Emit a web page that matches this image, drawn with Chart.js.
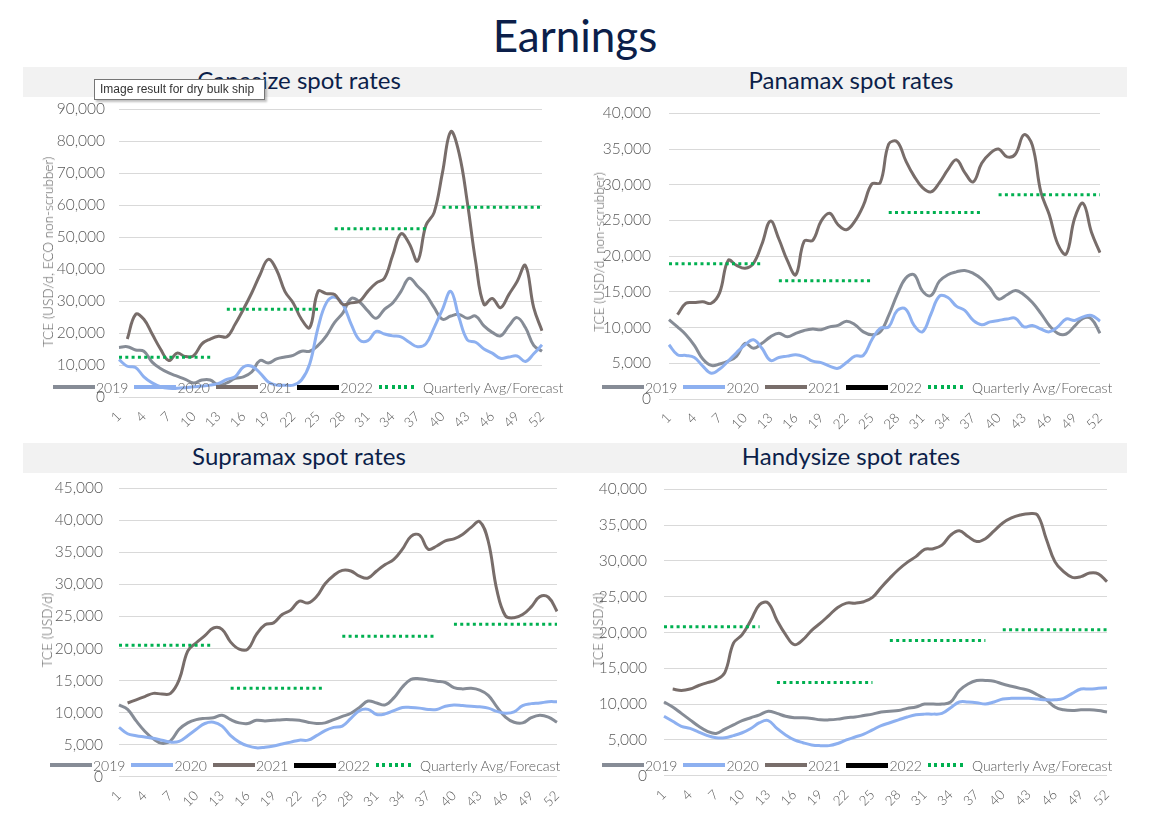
<!DOCTYPE html>
<html lang="en">
<head>
<meta charset="utf-8">
<title>Earnings</title>
<script src="https://cdn.jsdelivr.net/npm/chart.js@4.4.1/dist/chart.umd.min.js"></script>
<style>
  html, body { margin: 0; padding: 0; background: #fff; }
  body {
    width: 1150px; height: 819px; position: relative; overflow: hidden;
    font-family: Lato, 'Noto Sans', sans-serif;
  }
  .page-title {
    position: absolute; left: 0; top: 8px; width: 1150px;
    height: 54px; line-height: 54px; text-align: center;
    font-size: 44px; color: #0c1f4a;
  }
  .panel-bar {
    position: absolute; width: 552px; height: 30px; background: #f2f2f2;
    line-height: 26px; text-align: center; font-size: 24px; color: #0c1f4a;
  }
  canvas { position: absolute; }
  .y-title {
    position: absolute; white-space: nowrap; font-size: 13.5px; font-weight: 300; color: #595959;
    transform: translate(-50%, -50%) rotate(-90deg);
  }
  .legend {
    position: absolute; display: flex; align-items: center; height: 20px; margin-top: -10px;
    font-size: 14px; font-weight: 300; color: #595959; white-space: nowrap;
  }
  .legend .item { display: flex; align-items: center; margin-right: 6px; }
  .legend .swatch { width: 42px; height: 3.5px; margin-right: 1px; }
  .legend .swatch.thick { height: 5px; }
  .legend .swatch.dots {
    width: 38px; margin-right: 6px;
    background: repeating-linear-gradient(90deg, #00b050 0 3px, transparent 3px 6.3px) !important;
  }
  .tip {
    position: absolute; left: 94px; top: 79px; width: 164px; height: 19px;
    border: 1px solid #767676; background: #fff; box-shadow: 2px 2px 2px rgba(0,0,0,0.25);
    font: 12px 'Liberation Sans', Arial, sans-serif; color: #333;
    line-height: 19px; padding-left: 5px; box-sizing: content-box; white-space: nowrap;
  }
</style>
</head>
<body>
<div class="page-title">Earnings</div>

<script>
'use strict';

/* ---- 1. Data (weekly TCE, USD/day) ---- */
const weeks = [1, 2, 3, 4, 5, 6, 7, 8, 9, 10, 11, 12, 13, 14, 15, 16, 17, 18, 19, 20, 21, 22, 23, 24, 25, 26,
               27, 28, 29, 30, 31, 32, 33, 34, 35, 36, 37, 38, 39, 40, 41, 42, 43, 44, 45, 46, 47, 48, 49, 50, 51, 52];
const tickWeeks = [1, 4, 7, 10, 13, 16, 19, 22, 25, 28, 31, 34, 37, 40, 43, 46, 49, 52];

const quarterFirstWeek = [1, 14, 27, 40];
const quarterLastWeek  = [12, 25, 38, 52];

const capesize2019 = [15600, 15800, 14800, 14400, 11000, 9000, 7600, 6600, 5600, 4500, 5400, 5400, 3800, 4500, 5900, 6400, 7900, 11500, 10700, 12000, 12600, 13100, 14400, 14400, 16200, 19200,
                      23400, 26400, 30900, 29800, 27000, 24700, 27500, 29500, 33100, 37200, 34700, 32100, 28000, 24400, 25400, 25900, 24700, 25400, 22300, 20300, 19200, 22300, 24900, 21800, 16200, 14400];
const capesize2020 = [11800, 9700, 9300, 6400, 4500, 3300, 2800, 2800, 3000, 3300, 3500, 3800, 4300, 5600, 6400, 9500, 9700, 7600, 4800, 3800, 3800, 3800, 5400, 10500, 21800, 29500,
                      31300, 29000, 22800, 17900, 17700, 20600, 19800, 19200, 18900, 17200, 15800, 16700, 21800, 27500, 33100, 24900, 17900, 17200, 15100, 13800, 12200, 12600, 12900, 11200, 13600, 16400];
const capesize2021 = [null, 18200, 25900, 24400, 19750, 15100, 11500, 13800, 12750, 13000, 16700, 18200, 19100, 18900, 22800, 27500, 32600, 38300, 43100, 39800, 33100, 29500, 24400, 21800, 33100, 32400,
                      32100, 29000, 29500, 30000, 33100, 35700, 37200, 44400, 51100, 48000, 42600, 53700, 57800, 70200, 83000, 76300, 60900, 42400, 29000, 30900, 28000, 32100, 36200, 41200, 28000, 20800];
const capesizeQuarterly = [12500, 27500, 52700, 59400];

const panamax2019 = [11100, 10100, 9000, 7500, 5600, 4700, 4900, 5300, 6000, 7800, 7100, 7800, 8700, 9200, 8700, 9200, 9600, 9800, 9700, 10100, 10300, 10900, 10400, 9400, 9000, 9400,
                     11700, 14600, 16900, 17400, 15100, 14500, 16500, 17400, 17800, 18000, 17600, 16800, 15500, 14000, 14600, 15200, 14600, 13500, 12000, 10300, 9200, 9100, 10200, 11300, 11200, 9200];
const panamax2020 = [7600, 6200, 6100, 5800, 4600, 3600, 4200, 5300, 6500, 7600, 8300, 7100, 5400, 5800, 6000, 6200, 5900, 5300, 5100, 4600, 4300, 5100, 6000, 6100, 8300, 9900,
                     10100, 12400, 12600, 10300, 9400, 11900, 14400, 14200, 13000, 12400, 11000, 10400, 10800, 11000, 11200, 11300, 10100, 10300, 9800, 9400, 10100, 11200, 11000, 11500, 11700, 10900];
const panamax2021 = [null, 11800, 13400, 13500, 13600, 13400, 14900, 19400, 18700, 18300, 19000, 21700, 24900, 22400, 19400, 17400, 22100, 22200, 24900, 26000, 24400, 23700, 24900, 27100, 30100, 30300,
                     35700, 36000, 33400, 31200, 29600, 29000, 30300, 32100, 33500, 31700, 30400, 33000, 34400, 35000, 33900, 34300, 37000, 35500, 29000, 25800, 21700, 20300, 25300, 27400, 23300, 20500];
const panamaxQuarterly = [18950, 16550, 26100, 28600];

const supramax2019 = [11200, 10500, 8700, 7100, 5900, 5200, 5600, 7400, 8400, 8900, 9100, 9200, 9600, 8900, 8400, 8300, 8800, 8700, 8800, 8900, 8900, 8800, 8500, 8300, 8400, 8900,
                      9400, 9900, 10800, 11800, 11500, 11200, 12300, 14000, 15200, 15300, 15100, 14900, 14700, 13900, 13700, 13800, 13500, 12700, 10900, 9300, 8500, 8400, 9200, 9600, 9300, 8500];
const supramax2020 = [7700, 6700, 6400, 6200, 6000, 5700, 5400, 5500, 6400, 7400, 8300, 8500, 7900, 6400, 5400, 4800, 4500, 4600, 4800, 5100, 5400, 5700, 5700, 6400, 7200, 7700,
                      7900, 9100, 10300, 10500, 9700, 9800, 10300, 10800, 10800, 10700, 10500, 10500, 11000, 11200, 11100, 11000, 10900, 10700, 10200, 9900, 10100, 11100, 11400, 11500, 11700, 11700];
const supramax2021 = [null, 11500, 12000, 12500, 13000, 12900, 13000, 15100, 19600, 20900, 22000, 23200, 23000, 21000, 19900, 19900, 22200, 23700, 24000, 25300, 26000, 27400, 27100, 28100, 30100, 31400,
                      32200, 32100, 31300, 31000, 32100, 33100, 33900, 35500, 37500, 37700, 35500, 36000, 36800, 37100, 37800, 38900, 39800, 36700, 29100, 25100, 24800, 25300, 26500, 28100, 28000, 25800];
const supramaxQuarterly = [20500, 13800, 21900, 23800];

const handysize2019 = [10300, 9600, 8700, 7800, 6900, 6200, 5900, 6500, 7100, 7700, 8100, 8500, 9000, 8700, 8300, 8100, 8100, 8000, 7800, 7800, 7900, 8100, 8200, 8400, 8600, 8900,
                       9000, 9100, 9400, 9600, 10000, 10000, 10000, 10300, 11900, 12800, 13300, 13300, 13200, 12800, 12500, 12200, 11900, 11300, 10600, 9600, 9200, 9100, 9200, 9200, 9100, 8900];
const handysize2020 = [8300, 7600, 6900, 6600, 6100, 5600, 5300, 5300, 5600, 6000, 6600, 7400, 7700, 6600, 5700, 5000, 4600, 4300, 4200, 4200, 4500, 5000, 5400, 5800, 6400, 7000,
                       7400, 7800, 8200, 8500, 8600, 8600, 8700, 9500, 10300, 10300, 10200, 10000, 10300, 10700, 10800, 10800, 10800, 10700, 10600, 10600, 10800, 11500, 12100, 12100, 12200, 12300];
const handysize2021 = [null, 12100, 11900, 12100, 12600, 13000, 13400, 14400, 18500, 19700, 21700, 23900, 24100, 21700, 19700, 18300, 19000, 20300, 21300, 22400, 23500, 24100, 24100, 24300, 24900, 26300,
                       27600, 28800, 29800, 30600, 31600, 31700, 32200, 33600, 34200, 33400, 32700, 33100, 34200, 35300, 36000, 36400, 36600, 36400, 33100, 29900, 28500, 27700, 27800, 28300, 28200, 27100];
const handysizeQuarterly = [20800, 13000, 18900, 20400];

/* ---- 2. Theme ---- */
const COLORS = {
  y2019: '#868c96',
  y2020: '#8db0f0',
  y2021: '#786d6a',
  y2022: '#000000',
  quarterly: '#00b050',
  grid: '#d9d9d9',
  text: '#595959',
};

Chart.defaults.font.family = "Lato, 'Noto Sans', sans-serif";
Chart.defaults.font.weight = 300;
Chart.defaults.color = COLORS.text;

/* ---- 3. Panel layout (canvas box + target plot area, page px) ---- */
const PANELS = [
  { title: 'Capesize spot rates',  yTitle: 'TCE (USD/d, ECO non-scrubber)', bar: { l: 23, t: 67 },
    box: { l: 0, t: 86, w: 575, h: 350 }, area: { l: 119, r: 542, t: 105.7, b: 397.3 }, yPad: 14,
    yTitlePos: { x: 48, y: 252 }, legendPos: { x: 53, y: 387 },
    yMax: 90000, yStep: 10000, s2019: capesize2019, s2020: capesize2020, s2021: capesize2021, q: capesizeQuarterly },
  { title: 'Panamax spot rates',   yTitle: 'TCE (USD/d, non-scrubber)', bar: { l: 575, t: 67 },
    box: { l: 575, t: 86, w: 575, h: 350 }, area: { l: 669, r: 1100, t: 105.7, b: 399 }, yPad: 18,
    yTitlePos: { x: 599, y: 252 }, legendPos: { x: 602, y: 387 },
    yMax: 40000, yStep: 5000, s2019: panamax2019, s2020: panamax2020, s2021: panamax2021, q: panamaxQuarterly },
  { title: 'Supramax spot rates',  yTitle: 'TCE (USD/d)', bar: { l: 23, t: 443 },
    box: { l: 0, t: 463, w: 575, h: 350 }, area: { l: 119, r: 557, t: 482.7, b: 776.7 }, yPad: 16,
    yTitlePos: { x: 47, y: 630 }, legendPos: { x: 50, y: 765 },
    yMax: 45000, yStep: 5000, s2019: supramax2019, s2020: supramax2020, s2021: supramax2021, q: supramaxQuarterly },
  { title: 'Handysize spot rates', yTitle: 'TCE (USD/d)', bar: { l: 575, t: 443 },
    box: { l: 575, t: 463, w: 575, h: 350 }, area: { l: 664, r: 1107, t: 482.7, b: 775.7 }, yPad: 17,
    yTitlePos: { x: 598, y: 630 }, legendPos: { x: 602, y: 765 },
    yMax: 40000, yStep: 5000, s2019: handysize2019, s2020: handysize2020, s2021: handysize2021, q: handysizeQuarterly },
];

const LEGEND_ITEMS = [
  { label: '2019', color: COLORS.y2019 },
  { label: '2020', color: COLORS.y2020 },
  { label: '2021', color: COLORS.y2021 },
  { label: '2022', color: COLORS.y2022, cls: 'thick' },
  { label: 'Quarterly Avg/Forecast', color: COLORS.quarterly, cls: 'dots' },
];

/* ---- 4. Helpers ---- */
// Spread the four quarterly levels over their weeks (gaps between quarters stay empty)
function quarterlySeries(levels) {
  return weeks.map(w => {
    const q = quarterFirstWeek.findIndex((first, i) => w >= first && w <= quarterLastWeek[i]);
    return q >= 0 ? levels[q] : null;
  });
}

function yearLine(label, data, color, order) {
  return {
    label, data, order,
    borderColor: color,
    backgroundColor: color,
    borderWidth: 3,
    tension: 0.4,
    pointRadius: 0,
    fill: false,
  };
}

function addEl(cls, text, style) {
  const el = document.createElement('div');
  el.className = cls;
  if (text) el.textContent = text;
  Object.assign(el.style, style || {});
  document.body.appendChild(el);
  return el;
}

function buildLegend(pos) {
  const wrap = addEl('legend', '', { left: pos.x + 'px', top: pos.y + 'px' });
  LEGEND_ITEMS.forEach(it => {
    const item = document.createElement('div');
    item.className = 'item';
    const sw = document.createElement('span');
    sw.className = 'swatch' + (it.cls ? ' ' + it.cls : '');
    sw.style.background = it.color;
    const tx = document.createElement('span');
    tx.textContent = it.label;
    item.appendChild(sw);
    item.appendChild(tx);
    wrap.appendChild(item);
  });
}

function buildPanel(p) {
  const { box, area } = p;

  const canvas = document.createElement('canvas');
  canvas.width = box.w;
  canvas.height = box.h;
  Object.assign(canvas.style, {
    left: box.l + 'px', top: box.t + 'px', width: box.w + 'px', height: box.h + 'px'
  });
  document.body.appendChild(canvas);

  return new Chart(canvas, {
    type: 'line',
    data: {
      labels: weeks,
      datasets: [
        yearLine('2019', p.s2019, COLORS.y2019, 3),
        yearLine('2020', p.s2020, COLORS.y2020, 2),
        yearLine('2021', p.s2021, COLORS.y2021, 1),
        {
          label: 'Quarterly Avg/Forecast',
          data: quarterlySeries(p.q),
          order: 0,
          borderColor: COLORS.quarterly,
          borderWidth: 3,
          borderDash: [3, 3.3],
          tension: 0,
          pointRadius: 0,
          fill: false,
        },
      ]
    },
    options: {
      responsive: false,
      animation: false,
      events: [],
      layout: {
        padding: { top: area.t - box.t, right: box.l + box.w - area.r, bottom: 0, left: 0 }
      },
      plugins: {
        legend: { display: false },
        tooltip: { enabled: false },
      },
      scales: {
        x: {
          grid: { display: false },
          border: { display: false },
          ticks: {
            autoSkip: false,
            minRotation: 45,
            maxRotation: 45,
            padding: 3,
            font: { size: 13.5 },
            color: COLORS.text,
            callback: (v, i) => tickWeeks.includes(weeks[i]) ? String(weeks[i]) : '',
          },
          afterFit: s => { s.height = box.t + box.h - area.b; },
        },
        y: {
          min: 0,
          max: p.yMax,
          grid: { color: COLORS.grid, lineWidth: 1, drawTicks: false },
          border: { display: false },
          ticks: {
            stepSize: p.yStep,
            padding: p.yPad,
            font: { size: 15.5 },
            color: COLORS.text,
            callback: v => v.toLocaleString('en-US'),
          },
          afterFit: s => { s.width = area.l - box.l; },
        }
      }
    }
  });
}

/* ---- 5. Build page ---- */
PANELS.forEach(p => {
  addEl('panel-bar', p.title, { left: p.bar.l + 'px', top: p.bar.t + 'px' });
});
PANELS.forEach(p => {
  buildPanel(p);
  addEl('y-title', p.yTitle, { left: p.yTitlePos.x + 'px', top: p.yTitlePos.y + 'px' });
  buildLegend(p.legendPos);
});

// browser hover tooltip captured over the first panel title
addEl('tip', 'Image result for dry bulk ship');
</script>
</body>
</html>
